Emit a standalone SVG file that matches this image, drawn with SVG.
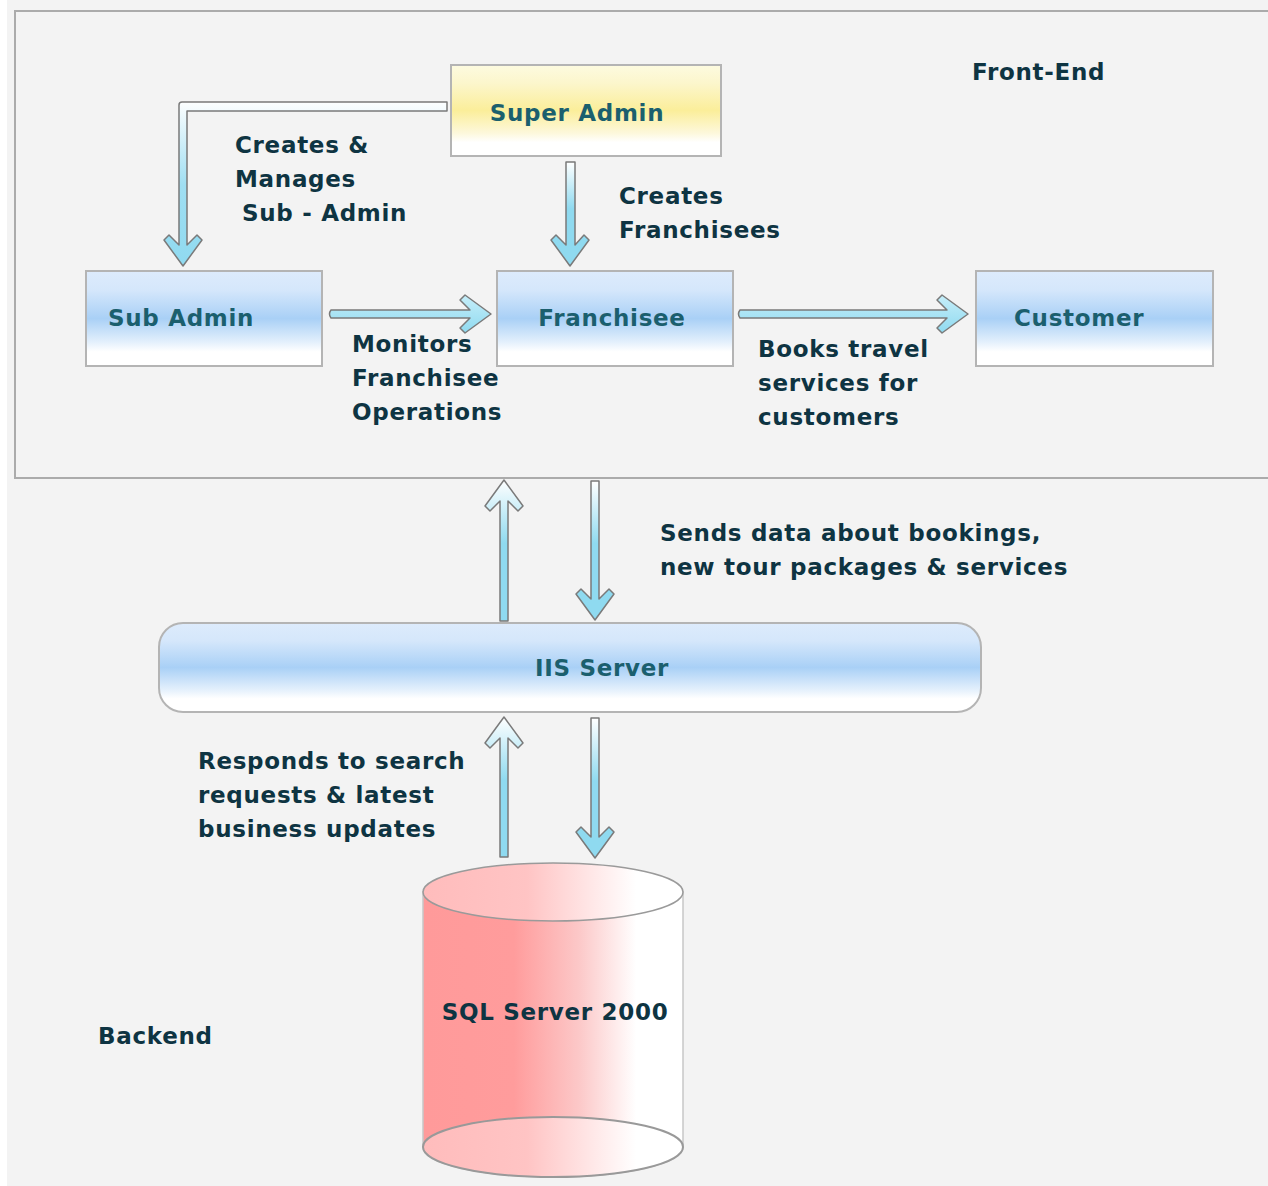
<svg xmlns="http://www.w3.org/2000/svg" width="1268" height="1186" viewBox="0 0 1268 1186">
<defs>
<linearGradient id="gBlue" x1="0" y1="0" x2="0" y2="1">
<stop offset="0" stop-color="#ddebfc"/>
<stop offset="0.2" stop-color="#d5e7fb"/>
<stop offset="0.5" stop-color="#a9d0f6"/>
<stop offset="0.75" stop-color="#e4f0fc"/>
<stop offset="0.85" stop-color="#ffffff"/>
<stop offset="1" stop-color="#ffffff"/>
</linearGradient>
<linearGradient id="gYellow" x1="0" y1="0" x2="0" y2="1">
<stop offset="0" stop-color="#fdfbe0"/>
<stop offset="0.2" stop-color="#fcf6cc"/>
<stop offset="0.5" stop-color="#fbee9a"/>
<stop offset="0.75" stop-color="#fdf8dc"/>
<stop offset="0.85" stop-color="#ffffff"/>
<stop offset="1" stop-color="#ffffff"/>
</linearGradient>
<linearGradient id="gRed" x1="0" y1="0" x2="1" y2="0">
<stop offset="0" stop-color="#ff9a9a"/>
<stop offset="0.35" stop-color="#ff9c9c"/>
<stop offset="0.6" stop-color="#fcc8c8"/>
<stop offset="0.82" stop-color="#ffffff"/>
<stop offset="1" stop-color="#ffffff"/>
</linearGradient>
<linearGradient id="gRedCap" x1="0" y1="0" x2="1" y2="0">
<stop offset="0" stop-color="#ffbcbc"/>
<stop offset="0.4" stop-color="#ffc4c4"/>
<stop offset="0.82" stop-color="#ffffff"/>
<stop offset="1" stop-color="#ffffff"/>
</linearGradient>
<linearGradient id="gDown" x1="0" y1="0" x2="0" y2="1">
<stop offset="0" stop-color="#ffffff"/>
<stop offset="0.45" stop-color="#8fdaf0"/>
<stop offset="1" stop-color="#8fdaf0"/>
</linearGradient>
<linearGradient id="gUp" x1="0" y1="1" x2="0" y2="0">
<stop offset="0" stop-color="#8fdaf0"/>
<stop offset="0.55" stop-color="#8fdaf0"/>
<stop offset="1" stop-color="#ffffff"/>
</linearGradient>
<linearGradient id="gRight" x1="0" y1="0" x2="0" y2="1">
<stop offset="0" stop-color="#c6eef9"/>
<stop offset="1" stop-color="#8fdaf0"/>
</linearGradient>
<linearGradient id="gElbow" gradientUnits="userSpaceOnUse" x1="0" y1="100" x2="0" y2="270">
<stop offset="0" stop-color="#ffffff"/>
<stop offset="0.5" stop-color="#9fdef2"/>
<stop offset="1" stop-color="#8fdaf0"/>
</linearGradient>
</defs>
<style>
.box{stroke:#b4b4b4;stroke-width:2}
.nt{font-family:"DejaVu Sans",Verdana,sans-serif;font-weight:bold;font-size:23px;letter-spacing:0.7px;fill:#1b5f6e}
.lt{font-family:"DejaVu Sans",Verdana,sans-serif;font-weight:bold;font-size:23px;letter-spacing:0.7px;fill:#0e3442}
.arrow{stroke:#7a7a7a;stroke-width:1.5;stroke-linejoin:round}
</style>
<rect x="0" y="0" width="1268" height="1186" fill="#f3f3f3"/>
<rect x="0" y="0" width="7" height="1186" fill="#ffffff"/>
<rect id="frontend-frame" x="15" y="11" width="1260" height="467" fill="#f3f3f3" stroke="#ababab" stroke-width="2"/>
<text class="lt" x="972" y="80">Front-End</text>
<text class="lt" x="98" y="1044">Backend</text>

<g id="connectors">
<path class="arrow" fill="url(#gElbow)" d="M447,102 L447,111 L187,111 L187,245 L197,235 L202,240 L183,266 L164,240 L169,235 L179,245 L179,105 Q179,102 182,102 Z"/>
<path class="arrow" fill="url(#gDown)" d="M566,162 L575,162 L575,245 L584,235 L589,240 L570,266 L551,240 L556,235 L566,245 Z"/>
<path class="arrow" fill="url(#gRight)" d="M331,310 L470,310 L460,300 L465,295 L491,314 L465,333 L460,328 L470,318 L331,318 Q328,314 331,310 Z"/>
<path class="arrow" fill="url(#gRight)" d="M740,310 L947,310 L937,300 L942,295 L968,314 L942,333 L937,328 L947,318 L740,318 Q737,314 740,310 Z"/>
<path class="arrow" fill="url(#gUp)" d="M500,621 L500,501 L490,511 L485,506 L504,480 L523,506 L518,511 L508,501 L508,621 Z"/>
<path class="arrow" fill="url(#gDown)" d="M591,481 L599,481 L599,599 L609,589 L614,594 L595,620 L576,594 L581,589 L591,599 Z"/>
<path class="arrow" fill="url(#gUp)" d="M500,857 L500,738 L490,748 L485,743 L504,717 L523,743 L518,748 L508,738 L508,857 Z"/>
<path class="arrow" fill="url(#gDown)" d="M591,718 L599,718 L599,837 L609,827 L614,832 L595,858 L576,832 L581,827 L591,837 Z"/>
</g>

<g id="super-admin">
<rect class="box" x="451" y="65" width="270" height="91" fill="url(#gYellow)"/>
<text class="nt" x="577" y="121" text-anchor="middle">Super Admin</text>
</g>
<g id="sub-admin">
<rect class="box" x="86" y="271" width="236" height="95" fill="url(#gBlue)"/>
<text class="nt" x="108" y="326">Sub Admin</text>
</g>
<g id="franchisee">
<rect class="box" x="497" y="271" width="236" height="95" fill="url(#gBlue)"/>
<text class="nt" x="612" y="326" text-anchor="middle">Franchisee</text>
</g>
<g id="customer">
<rect class="box" x="976" y="271" width="237" height="95" fill="url(#gBlue)"/>
<text class="nt" x="1014" y="326">Customer</text>
</g>
<g id="iis-server">
<rect class="box" x="159" y="623" width="822" height="89" rx="24" fill="url(#gBlue)"/>
<text class="nt" x="602" y="676" text-anchor="middle">IIS Server</text>
</g>
<g id="sql-server">
<path d="M423,892 L423,1147 A130,30 0 0 0 683,1147 L683,892 Z" fill="url(#gRed)" stroke="#c8c8c8" stroke-width="1.5"/>
<ellipse cx="553" cy="1147" rx="130" ry="30" fill="url(#gRedCap)" stroke="#999" stroke-width="2"/>
<ellipse cx="553" cy="892" rx="130" ry="29" fill="url(#gRedCap)" stroke="#9a9a9a" stroke-width="1.5"/>
<text class="lt" x="555" y="1020" text-anchor="middle">SQL Server 2000</text>
</g>

<g id="labels">
<text class="lt" x="235" y="153">Creates &amp;</text>
<text class="lt" x="235" y="187">Manages</text>
<text class="lt" x="242" y="221">Sub - Admin</text>
<text class="lt" x="619" y="204">Creates</text>
<text class="lt" x="619" y="238">Franchisees</text>
<text class="lt" x="352" y="352">Monitors</text>
<text class="lt" x="352" y="386">Franchisee</text>
<text class="lt" x="352" y="420">Operations</text>
<text class="lt" x="758" y="357">Books travel</text>
<text class="lt" x="758" y="391">services for</text>
<text class="lt" x="758" y="425">customers</text>
<text class="lt" x="660" y="541">Sends data about bookings,</text>
<text class="lt" x="660" y="575">new tour packages &amp; services</text>
<text class="lt" x="198" y="769">Responds to search</text>
<text class="lt" x="198" y="803">requests &amp; latest</text>
<text class="lt" x="198" y="837">business updates</text>
</g>
</svg>
